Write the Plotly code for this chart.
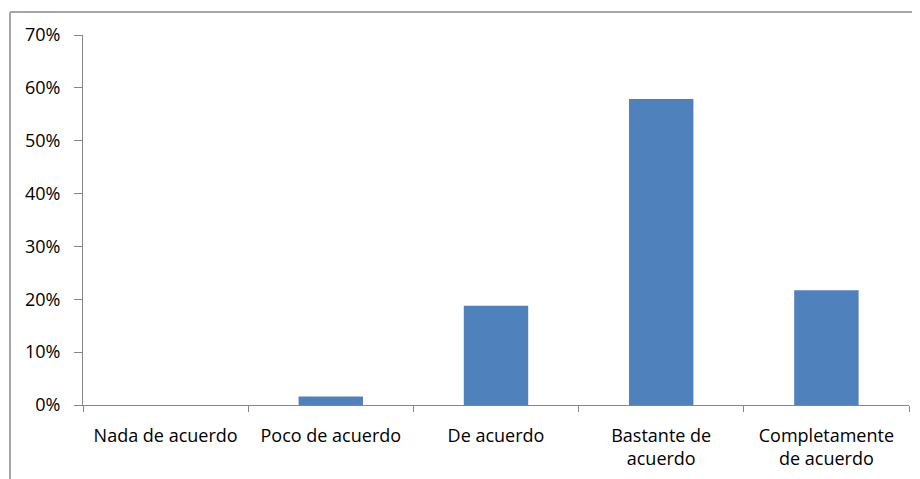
import plotly.graph_objects as go

categorias = ["Nada de acuerdo", "Poco de acuerdo", "De acuerdo",
              "Bastante de<br>acuerdo", "Completamente<br>de acuerdo"]
porcentajes = [0.0, 0.016, 0.188, 0.579, 0.217]
ticks_y = [0, 0.1, 0.2, 0.3, 0.4, 0.5, 0.6, 0.7]

# la página añade 8 px de margen al cuerpo
OFF = 8
W, H = 920 - OFF, 479 - OFF
ML, MR, MT, MB = 83 - OFF, 11, 35 - OFF, 74
pw = W - ML - MR
ph = H - MT - MB

fig = go.Figure()

fig.add_trace(go.Bar(
    x=categorias,
    y=porcentajes,
    marker=dict(color="#4F81BD", line=dict(width=0)),
    width=0.39,
    hoverinfo="skip",
    showlegend=False,
))

axis_font = dict(family="'Open Sans', sans-serif", size=18, color="#000000")

fig.update_layout(
    width=W, height=H,
    margin=dict(l=ML, r=MR, t=MT, b=MB),
    paper_bgcolor="white",
    plot_bgcolor="white",
    xaxis=dict(
        type="category",
        tickson="boundaries",
        ticks="outside",
        ticklen=6,
        tickcolor="#868686",
        showline=True,
        linecolor="#868686",
        linewidth=1,
        showgrid=False,
        tickfont=axis_font,
        ticklabelstandoff=14,
        automargin=False,
    ),
    yaxis=dict(
        range=[0, 0.7],
        tickvals=ticks_y,
        tickformat=".0%",
        ticks="outside",
        ticklen=8,
        tickcolor="#868686",
        showline=True,
        linecolor="#868686",
        linewidth=1,
        showgrid=False,
        zeroline=False,
        tickfont=axis_font,
        ticklabelstandoff=10,
        automargin=False,
    ),
    shapes=[
        # borde del área del gráfico (recortado)
        dict(type="line", xref="paper", yref="paper",
             x0=(10 - OFF - ML) / pw, x1=(W + 5 - ML) / pw,
             y0=(H - MB - (12 - OFF)) / ph, y1=(H - MB - (12 - OFF)) / ph,
             line=dict(color="#a6a6a6", width=2)),
        dict(type="line", xref="paper", yref="paper",
             x0=(10 - OFF - ML) / pw, x1=(10 - OFF - ML) / pw,
             y0=(H - MB - (12 - OFF)) / ph, y1=(H - MB - H - 5) / ph,
             line=dict(color="#a6a6a6", width=2)),
    ],
)

fig.write_html("out.html")
